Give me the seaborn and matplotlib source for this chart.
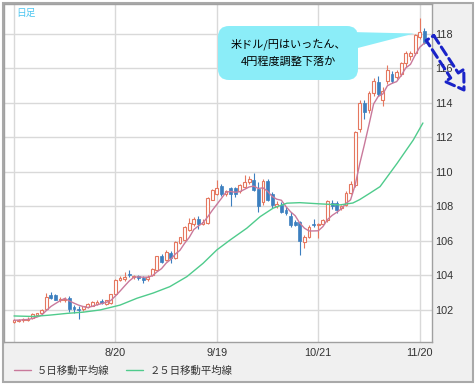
import numpy as np
import pandas as pd
import matplotlib.pyplot as plt
import seaborn as sns
from matplotlib.patches import Rectangle, FancyBboxPatch, Polygon, FancyArrowPatch
from matplotlib.lines import Line2D

# --- 日足データ（チャートから読み取り） ---
opens = [101.30, 101.38, 101.40, 101.44, 101.55, 101.70, 101.80, 102.05, 102.85, 102.85,
         102.60, 102.55, 102.70, 102.15, 102.08, 102.05, 102.15, 102.25, 102.35, 102.50,
         102.35, 102.40, 102.90, 103.75, 103.80, 104.10, 103.92, 103.95, 103.85, 103.80,
         104.00, 104.30, 105.10, 104.90, 105.30, 105.00, 105.90, 106.05, 106.65, 107.00,
         107.25, 107.00, 107.05, 108.40, 108.75, 109.20, 108.70, 109.05, 109.05, 108.90,
         109.15, 109.40, 109.55, 109.00, 108.25, 109.50, 108.75, 108.00, 108.10, 107.80,
         107.45, 107.10, 107.10, 105.95, 106.25, 107.00, 106.90, 107.00, 107.20, 108.20,
         108.20, 107.90, 108.10, 108.80, 109.25, 112.50, 114.00, 113.60, 114.60, 115.20,
         114.20, 115.30, 115.70, 115.50, 115.70, 116.30, 116.70, 116.90, 117.80, 118.20]
highs = [101.48, 101.50, 101.52, 101.58, 101.80, 101.85, 102.05, 103.00, 103.05, 102.95,
         102.75, 102.75, 102.80, 102.30, 102.20, 102.25, 102.40, 102.50, 102.55, 102.65,
         102.60, 102.95, 103.80, 103.95, 104.20, 104.30, 104.05, 104.05, 103.95, 104.00,
         104.45, 105.15, 105.25, 105.45, 105.40, 106.00, 106.25, 106.85, 107.35, 107.40,
         107.45, 107.25, 108.55, 109.00, 109.55, 109.30, 108.95, 109.15, 109.15, 109.30,
         109.80, 109.75, 109.95, 109.40, 109.60, 109.60, 108.85, 108.30, 108.25, 107.95,
         107.65, 107.20, 107.15, 106.35, 106.90, 107.30, 107.05, 107.25, 108.40, 108.35,
         108.30, 108.10, 108.90, 109.45, 112.40, 114.20, 114.20, 114.70, 115.45, 115.55,
         114.95, 116.20, 115.85, 115.90, 116.40, 117.00, 117.00, 118.00, 118.95, 118.35]
lows = [101.22, 101.28, 101.30, 101.36, 101.50, 101.62, 101.75, 101.98, 102.65, 102.55,
        102.48, 102.45, 101.90, 101.85, 101.50, 101.95, 102.10, 102.20, 102.30, 102.35,
        102.30, 102.35, 102.85, 103.65, 103.70, 103.90, 103.80, 103.75, 103.55, 103.70,
        103.95, 104.25, 104.75, 104.85, 104.75, 104.95, 105.80, 106.00, 106.55, 106.85,
        106.70, 106.90, 107.00, 108.40, 108.65, 108.60, 108.60, 108.00, 108.55, 108.80,
        109.05, 109.30, 108.90, 107.70, 108.10, 108.30, 107.90, 107.90, 107.60, 107.50,
        106.80, 106.85, 105.20, 105.60, 106.15, 106.80, 106.15, 106.90, 107.10, 107.85,
        107.60, 107.80, 108.00, 108.70, 109.10, 112.30, 113.10, 113.40, 114.40, 114.40,
        113.80, 115.10, 115.15, 115.40, 115.55, 116.10, 116.50, 116.80, 117.70, 117.40]
closes = [101.40, 101.42, 101.46, 101.50, 101.75, 101.80, 102.00, 102.75, 102.70, 102.60,
          102.62, 102.65, 102.05, 102.05, 102.02, 102.20, 102.35, 102.45, 102.45, 102.40,
          102.55, 102.90, 103.75, 103.85, 103.90, 104.00, 103.98, 103.85, 103.75, 103.92,
          104.40, 105.10, 104.80, 105.35, 105.00, 105.95, 106.20, 106.80, 107.05, 107.30,
          107.00, 107.10, 108.50, 108.95, 109.05, 108.75, 108.90, 108.70, 108.70, 109.25,
          109.40, 109.60, 108.95, 108.00, 109.45, 108.40, 108.10, 108.15, 107.70, 107.60,
          106.90, 106.95, 106.00, 106.25, 106.80, 106.90, 107.00, 107.20, 108.30, 108.00,
          107.80, 108.00, 108.80, 109.30, 112.30, 114.00, 113.50, 114.60, 115.30, 114.50,
          114.70, 115.90, 115.30, 115.80, 116.30, 116.90, 116.90, 117.95, 118.10, 117.50]

# ２５日移動平均線（読み取り点）
ma25_idx = [0, 4.1, 7.8, 11.5, 15, 18.7, 23, 26.7, 30.2, 33.8, 37.5, 41, 44, 46.9, 50.5,
            53.4, 56.2, 59.2, 62, 66.4, 70.7, 73.5, 75, 77.2, 79.4, 83.1, 86.6, 88.7]
ma25_val = [101.65, 101.62, 101.70, 101.80, 101.87, 102.00, 102.28, 102.68, 102.98, 103.35,
            103.93, 104.70, 105.48, 106.06, 106.74, 107.41, 107.90, 108.19, 108.22, 108.15,
            108.09, 108.20, 108.40, 108.77, 109.15, 110.50, 111.85, 112.84]

date_ticks = [0, 22, 44, 66, 88]
date_labels = ["", "8/20", "9/19", "10/21", "11/20"]
price_ticks = [102, 104, 106, 108, 110, 112, 114, 116, 118]

up_color = "#e5775f"
down_color = "#3c7fbf"
ma5_color = "#c9799b"
ma25_color = "#4fcb8c"

W, H = 475, 387


def fx(px):
    return px / W


def fy(py):
    return 1 - py / H


def inch(px, py):
    # ピクセル座標（左上原点）→ インチ（fig.dpi_scale_trans 用）
    return (px / 100, (H - py) / 100)


sns.set_style("white")
plt.rcParams['font.family'] = ['Noto Sans CJK JP', 'DejaVu Sans']

fig = plt.figure(figsize=(4.75, 3.87), dpi=100)
fig.add_artist(Rectangle((fx(3), fy(382)), fx(473) - fx(3), fy(3) - fy(382),
                         transform=fig.transFigure, facecolor="#f0f0f0",
                         edgecolor="#a9a9a9", lw=1.5, zorder=0))

ax = fig.add_axes([fx(4), fy(342), fx(432) - fx(4), fy(4) - fy(342)])
ax.set_facecolor("white")

df = pd.DataFrame({"open": opens, "high": highs, "low": lows, "close": closes})
df["i"] = np.arange(len(df))
df["ma5"] = df["close"].rolling(5, min_periods=1).mean()
up = df["close"] >= df["open"]
dn = ~up

# ローソク足
ax.vlines(df.i[up], df.low[up], df.high[up], color=up_color, lw=0.8, zorder=2)
ax.vlines(df.i[dn], df.low[dn], df.high[dn], color=down_color, lw=0.8, zorder=2)
body_up = (df.close - df.open)[up].clip(lower=0.04)
body_dn = (df.open - df.close)[dn].clip(lower=0.04)
ax.bar(df.i[up], body_up, bottom=df.open[up], width=0.62, facecolor="white",
       edgecolor=up_color, lw=0.8, zorder=3)
ax.bar(df.i[dn], body_dn, bottom=df.close[dn], width=0.62, facecolor=down_color,
       edgecolor=down_color, lw=0.5, zorder=3)

# 移動平均線
sns.lineplot(data=df, x="i", y="ma5", color=ma5_color, lw=1, ax=ax, zorder=4)
sns.lineplot(x=ma25_idx, y=ma25_val, color=ma25_color, lw=1, ax=ax, zorder=4,
             sort=False)

ax.set_xlim(-2.17, 90.67)
ax.set_ylim(100.14, 119.74)
ax.set_xlabel("")
ax.set_ylabel("")
ax.grid(True, color="#d9d9d9", lw=1)
ax.set_axisbelow(True)
for s in ax.spines.values():
    s.set_color("#a0a0a0")
    s.set_linewidth(1)

ax.yaxis.tick_right()
ax.set_yticks(price_ticks)
ax.set_yticklabels([str(p) for p in price_ticks])
ax.set_xticks(date_ticks)
ax.set_xticklabels(date_labels)
ax.tick_params(axis="y", length=0, pad=2.5, labelsize=7.8, labelcolor="#333333")
ax.tick_params(axis="x", length=0, pad=4, labelsize=7.8, labelcolor="#333333")
for lab in ax.get_yticklabels() + ax.get_xticklabels():
    lab.set_fontfamily("Liberation Sans")

# 凡例
handles = [Line2D([], [], color=ma5_color, lw=1), Line2D([], [], color=ma25_color, lw=1)]
fig.legend(handles, ["５日移動平均線", "２５日移動平均線"], loc="center left",
           bbox_to_anchor=(fx(14), fy(371)), ncol=2, frameon=False, fontsize=7.5,
           handlelength=1.6, handletextpad=0.6, columnspacing=1.6,
           borderaxespad=0, borderpad=0, labelcolor="#333333")

fig.text(fx(16), fy(13), "日足", color="#4fc6f0", fontsize=7, va="center")

# 吹き出し
tr = fig.dpi_scale_trans
x0, y0 = inch(218, 80)
bubble = FancyBboxPatch((x0, y0), 1.40, 0.54, boxstyle="round,pad=0,rounding_size=0.11",
                        transform=tr, facecolor="#8bedf8", edgecolor="none", zorder=10)
fig.add_artist(bubble)
tail = Polygon([inch(350, 32), inch(350, 50), inch(414, 33.5)], closed=True,
               transform=tr, facecolor="#8bedf8", edgecolor="none", zorder=10)
fig.add_artist(tail)
fig.text(fx(288), fy(44), "米ドル/円はいったん、", ha="center", va="center",
         fontsize=8, color="black", zorder=11)
fig.text(fx(288), fy(62), "4円程度調整下落か", ha="center", va="center",
         fontsize=8, color="black", zorder=11)

# 点線矢印
arrow = FancyArrowPatch(posA=inch(430, 38), posB=inch(464, 90), transform=tr,
                        arrowstyle="simple,head_length=1.25,head_width=1.6,tail_width=0.65",
                        mutation_scale=10, shrinkA=0, shrinkB=0, fill=False,
                        edgecolor="#1a23c8", linestyle=(0, (3, 1.5)), lw=2.2, zorder=12)
fig.add_artist(arrow)

fig.savefig("out.png", dpi=100)
